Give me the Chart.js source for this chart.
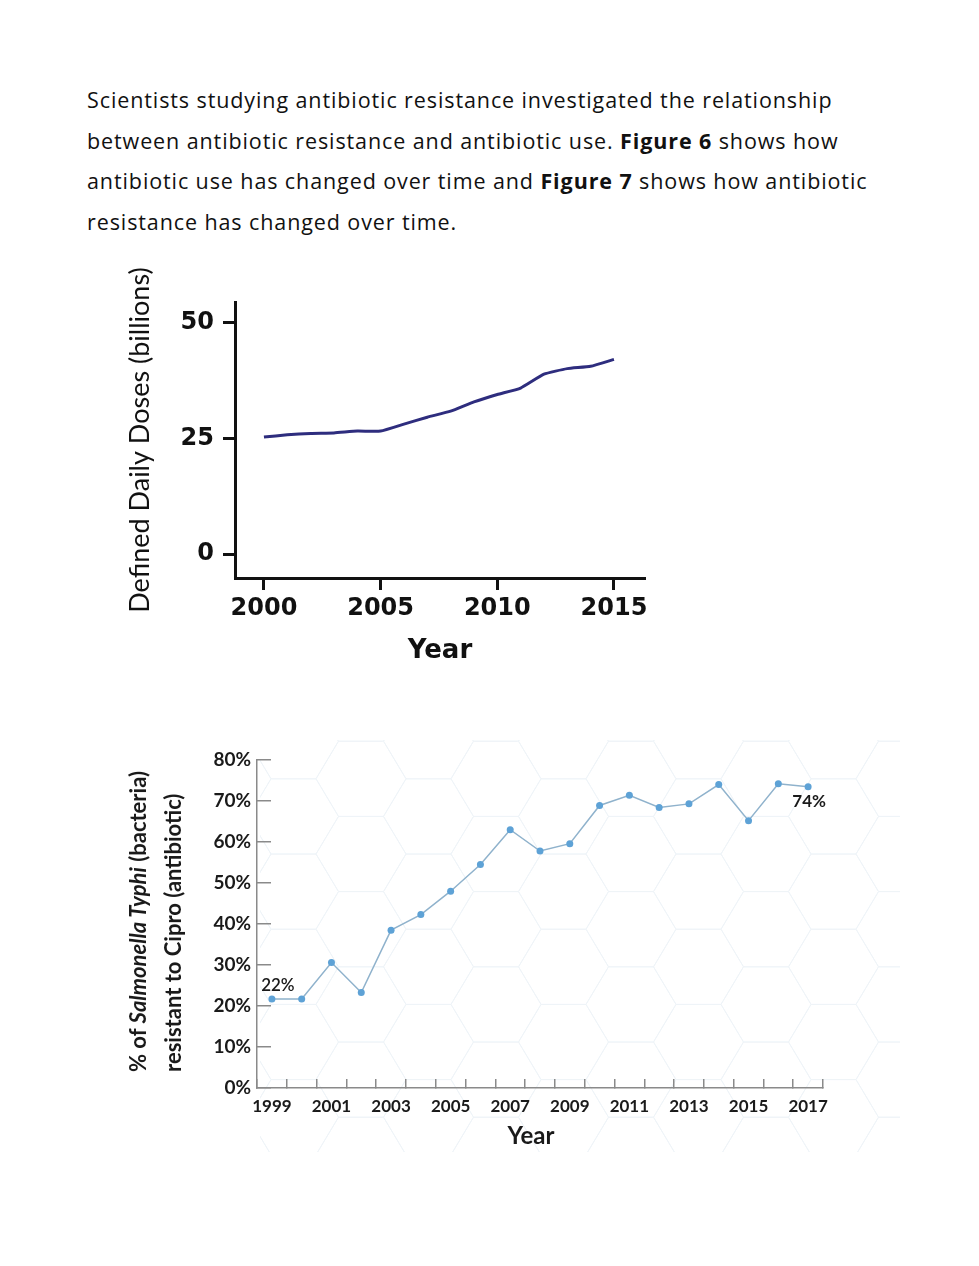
<!DOCTYPE html>
<html>
<head>
<meta charset="utf-8">
<script src="https://cdn.jsdelivr.net/npm/chart.js@4.4.1/dist/chart.umd.min.js"></script>
<style>
  body { margin: 0; background: #fff; width: 979px; height: 1266px; position: relative; overflow: hidden; }
  .intro { position: absolute; left: 87px; top: 80px; width: 890px; font-family: "Open Sans", sans-serif; font-size: 21.5px; letter-spacing: 0.9px; line-height: 40.7px; color: #111; }
  .intro b { font-weight: 700; }
  #fig6 { position: absolute; left: 110px; top: 260px; }
  #fig7 { position: absolute; left: 110px; top: 740px; }
  .ytitle7 {
    position: absolute; left: 120px; top: 1072px;
    transform: rotate(-90deg); transform-origin: 0 0;
    white-space: nowrap; font-family: Lato, sans-serif; font-weight: 700;
    font-size: 22px; line-height: 35px; color: #1a1a1a;
  }
</style>
</head>
<body>
<div class="intro">Scientists studying antibiotic resistance investigated the relationship<br>
between antibiotic resistance and antibiotic use. <b>Figure 6</b> shows how<br>
antibiotic use has changed over time and <b>Figure 7</b> shows how antibiotic<br>
resistance has changed over time.</div>

<canvas id="fig6" width="560" height="410"></canvas>
<canvas id="fig7" width="790" height="420"></canvas>
<div class="ytitle7">% of <i>Salmonella Typhi</i> (bacteria)<br>resistant to Cipro (antibiotic)</div>

<script>
// Figure 6 - antibiotic use
const useYears = [2000, 2001, 2002, 2003, 2004, 2005, 2006, 2007, 2008, 2009, 2010, 2011, 2012, 2013, 2014, 2015];
const useDoses = [25.3, 25.8, 26.1, 26.2, 26.6, 26.6, 28.1, 29.6, 30.9, 32.9, 34.5, 35.9, 38.9, 40.1, 40.6, 42.1];
const useXTicks = [2000, 2005, 2010, 2015];
const useYTicks = [0, 25, 50];

// Figure 7 - resistance
const resYears = ['1999', '2000', '2001', '2002', '2003', '2004', '2005', '2006', '2007', '2008',
                  '2009', '2010', '2011', '2012', '2013', '2014', '2015', '2016', '2017'];
const resPercent = [21.7, 21.7, 30.6, 23.3, 38.5, 42.3, 48.0, 54.5, 63.0, 57.8,
                    59.6, 68.9, 71.4, 68.4, 69.3, 74.0, 65.2, 74.2, 73.5];
const resYTicks = [0, 10, 20, 30, 40, 50, 60, 70, 80];
const calloutIndex = [0, 18];
const calloutText = ['22%', '74%'];

const black = '#111';

new Chart(document.getElementById('fig6'), {
    type: 'line',
    data: {
        datasets: [{
            data: useYears.map((y, i) => ({ x: y, y: useDoses[i] })),
            borderColor: '#2e2d7e',
            borderWidth: 3,
            pointRadius: 0,
            tension: 0.15,
            fill: false
        }]
    },
    options: {
        responsive: false,
        animation: false,
        layout: { padding: { top: 42, right: 25, left: 0, bottom: 0 } },
        plugins: { legend: { display: false }, tooltip: { enabled: false } },
        scales: {
            x: {
                type: 'linear',
                min: 1998.76,
                max: 2016.33,
                afterBuildTicks: s => { s.ticks = useXTicks.map(v => ({ value: v })); },
                afterFit: s => { s.height = 92; },
                ticks: {
                    color: black,
                    padding: 4,
                    font: { family: 'DejaVu Sans', weight: 'bold', size: 24 },
                    callback: v => String(v)
                },
                grid: { drawOnChartArea: false, tickLength: 12, tickWidth: 3, color: black },
                border: { color: black, width: 3 },
                title: {
                    display: true, text: 'Year', color: black,
                    font: { family: 'DejaVu Sans', weight: 'bold', size: 26 },
                    padding: { top: 0, bottom: 3 }
                }
            },
            y: {
                min: -5.15,
                max: 54.5,
                afterBuildTicks: s => { s.ticks = useYTicks.map(v => ({ value: v })); },
                afterFit: s => { s.width = 125; },
                ticks: {
                    color: black,
                    padding: 9,
                    font: { family: 'DejaVu Sans', weight: 'bold', size: 24 }
                },
                grid: { drawOnChartArea: false, tickLength: 12, tickWidth: 3, color: black },
                border: { color: black, width: 3 },
                title: {
                    display: true, text: 'Defined Daily Doses (billions)', color: black,
                    font: { family: 'Lato', size: 27 },
                    padding: { top: 14, bottom: 0 }
                }
            }
        }
    }
});

// faint honeycomb behind figure 7
const honeycomb = {
    id: 'honeycomb',
    beforeDraw(chart) {
        const ctx = chart.ctx;
        const side = 45, half = 37.6, step = 67.5;
        const cx0 = 521, cy0 = 114;   // one cell centre, canvas pixels
        ctx.save();
        ctx.beginPath();
        ctx.rect(150, 0, chart.width - 150, chart.height - 8);
        ctx.clip();
        ctx.strokeStyle = '#eff4f8';
        ctx.lineWidth = 1;
        for (let k = -8; k <= 6; k++) {
            const cx = cx0 + k * step;
            const shift = (Math.abs(k) % 2) * half;
            for (let j = -3; j <= 6; j++) {
                const cy = cy0 + j * 2 * half + shift;
                ctx.beginPath();
                ctx.moveTo(cx - side, cy);
                ctx.lineTo(cx - side / 2, cy - half);
                ctx.lineTo(cx + side / 2, cy - half);
                ctx.lineTo(cx + side, cy);
                ctx.lineTo(cx + side / 2, cy + half);
                ctx.lineTo(cx - side / 2, cy + half);
                ctx.closePath();
                ctx.stroke();
            }
        }
        ctx.restore();
    }
};

// text labels next to the first and last points, plus the x title
const calloutPlugin = {
    id: 'callouts',
    afterDatasetsDraw(chart) {
        const ctx = chart.ctx;
        const pts = chart.getDatasetMeta(0).data;
        const area = chart.chartArea;
        ctx.save();
        ctx.fillStyle = '#1a1a1a';
        ctx.textAlign = 'center';
        ctx.textBaseline = 'middle';
        calloutIndex.forEach((idx, k) => {
            const p = pts[idx];
            if (k === 0) {
                ctx.font = '600 17px Lato';
                ctx.fillText(calloutText[k], p.x + 6, p.y - 14);
            } else {
                ctx.font = 'bold 17px Lato';
                ctx.fillText(calloutText[k], p.x + 1, p.y + 15);
            }
        });
        ctx.font = 'bold 24px Lato';
        ctx.fillText('Year', (area.left + area.right) / 2 - 9, area.bottom + 48);
        ctx.restore();
    }
};

const axisGray = '#8a8a8a';

new Chart(document.getElementById('fig7'), {
    type: 'line',
    data: {
        labels: resYears,
        datasets: [{
            data: resPercent,
            borderColor: '#8fb2cc',
            borderWidth: 1.5,
            pointRadius: 3.5,
            pointBackgroundColor: '#5ea2d6',
            pointBorderColor: '#5ea2d6',
            pointBorderWidth: 0,
            tension: 0,
            fill: false
        }]
    },
    plugins: [honeycomb, calloutPlugin],
    options: {
        responsive: false,
        animation: false,
        layout: { padding: { top: 20, right: 77, left: 0, bottom: 0 } },
        plugins: { legend: { display: false }, tooltip: { enabled: false } },
        scales: {
            x: {
                type: 'category',
                offset: true,
                afterFit: s => { s.height = 72; },
                ticks: {
                    autoSkip: false,
                    maxRotation: 0,
                    color: '#1a1a1a',
                    padding: 17,
                    font: { family: 'Lato', weight: 'bold', size: 17 },
                    callback: function (v, i) { return i % 2 === 0 ? this.getLabelForValue(v) : ''; }
                },
                grid: { offset: true, drawOnChartArea: false, tickLength: -9, color: axisGray, lineWidth: 1.5 },
                border: { color: axisGray, width: 1.5 }
            },
            y: {
                min: 0,
                max: 80,
                afterBuildTicks: s => { s.ticks = resYTicks.map(v => ({ value: v })); },
                afterFit: s => { s.width = 147; s.paddingTop = 0; s.paddingBottom = 0; },
                ticks: {
                    color: '#1a1a1a',
                    padding: 20,
                    font: { family: 'Lato', weight: 'bold', size: 19 },
                    callback: v => v + '%'
                },
                grid: { drawOnChartArea: false, tickLength: -14, color: axisGray, lineWidth: 1.5 },
                border: { color: axisGray, width: 1.5 }
            }
        }
    }
});
</script>
</body>
</html>
